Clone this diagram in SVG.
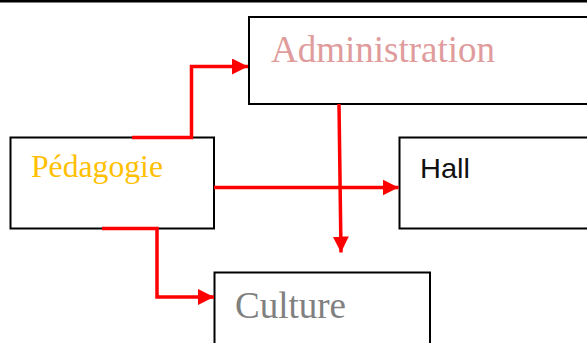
<svg xmlns="http://www.w3.org/2000/svg" width="587" height="343" viewBox="0 0 587 343">
  <style>
    .box { fill: #ffffff; stroke: #000000; stroke-width: 2; }
    .wire { fill: none; stroke: #ff0000; stroke-width: 3.5; stroke-linejoin: miter; }
    .serif { font-family: "Liberation Serif", "Times New Roman", serif; }
    .sans { font-family: "Liberation Sans", Arial, sans-serif; }
  </style>
  <defs>
    <marker id="head" viewBox="0 0 16 16" refX="16" refY="8" markerWidth="16" markerHeight="16" markerUnits="userSpaceOnUse" orient="auto">
      <path d="M0,0 L16,8 L0,16 Z" fill="#ff0000"/>
    </marker>
  </defs>

  <!-- top rule -->
  <rect x="0" y="0" width="587" height="2.5" fill="#000000"/>

  <g id="administration">
    <rect class="box" x="249" y="17" width="345" height="87"/>
    <text class="serif" x="271" y="62" font-size="37" fill="#e09c9c" textLength="224" lengthAdjust="spacingAndGlyphs">Administration</text>
  </g>

  <g id="pedagogie">
    <rect class="box" x="10.5" y="137.5" width="203.5" height="91"/>
    <text class="serif" x="31" y="177" font-size="31" fill="#ffc000" textLength="132" lengthAdjust="spacingAndGlyphs">Pédagogie</text>
  </g>

  <g id="hall">
    <rect class="box" x="399.5" y="137.5" width="195" height="91"/>
    <text class="sans" x="420" y="178" font-size="28" fill="#111111" textLength="50" lengthAdjust="spacingAndGlyphs">Hall</text>
  </g>

  <g id="culture">
    <rect class="box" x="214.5" y="272.5" width="215.5" height="80"/>
    <text class="serif" x="235" y="318" font-size="37" fill="#808080" textLength="111" lengthAdjust="spacingAndGlyphs">Culture</text>
  </g>

  <g id="connectors">
    <!-- Pédagogie to Administration -->
    <path class="wire" d="M132,137.5 H191.5 V66.5 H248" marker-end="url(#head)"/>
    <!-- Pédagogie to Hall -->
    <path class="wire" d="M214,187.5 H398.5" marker-end="url(#head)"/>
    <!-- Pédagogie to Culture -->
    <path class="wire" d="M102,228.5 H157 V297 H214" marker-end="url(#head)"/>
    <!-- Administration to Culture -->
    <path class="wire" d="M339,104 L341,252.5" marker-end="url(#head)"/>
  </g>
</svg>
